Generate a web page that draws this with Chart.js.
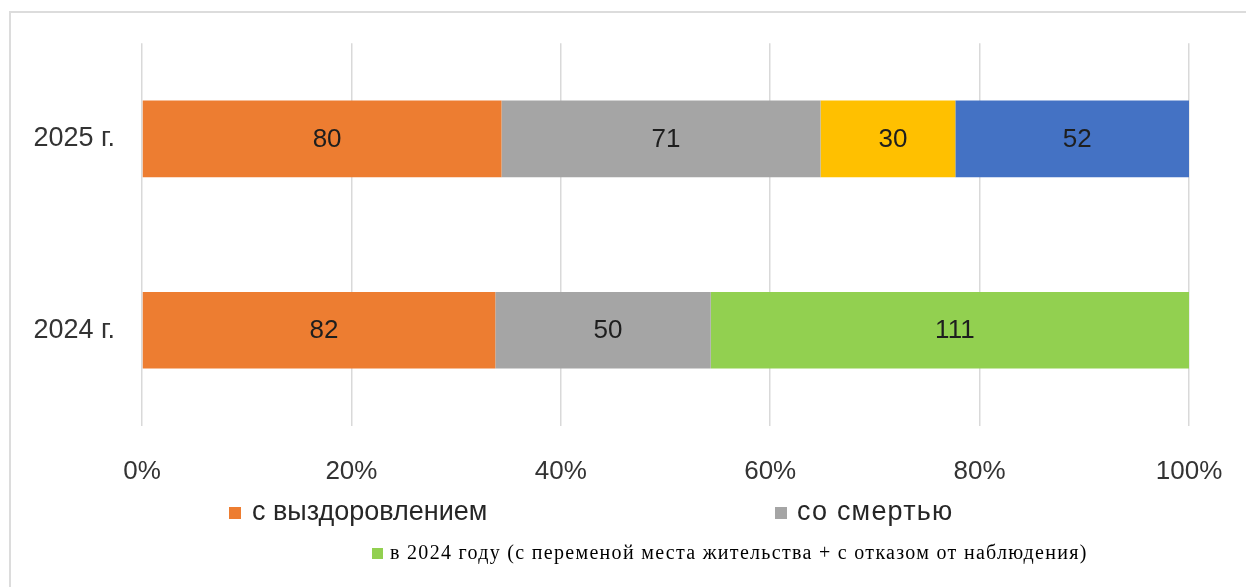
<!DOCTYPE html>
<html>
<head>
<meta charset="utf-8">
<script src="https://cdn.jsdelivr.net/npm/chart.js@4"></script>
<style>
  html, body { margin:0; padding:0; background:#fff; }
  #wrap { position:relative; width:1246px; height:587px; overflow:hidden; }
  #frame { position:absolute; left:9px; top:11px; width:1250px; height:600px; border:2px solid #dcdcdc; box-sizing:border-box; }
  canvas { position:absolute; left:0; top:0; }
  .lg { position:absolute; white-space:nowrap; color:#262626; }
  .lg i { position:absolute; display:block; }
  .sans { font-family:"Liberation Sans", Arial, sans-serif; font-size:27px; }
  .serif { font-family:"Liberation Serif", "Times New Roman", serif; font-size:20px; color:#000; letter-spacing:1.3px; }
</style>
</head>
<body>
<div id="wrap">
  <div id="frame"></div>
  <canvas id="chart" width="1246" height="587"></canvas>
  <div class="lg sans" style="left:229px;top:496px;"><i style="left:0;top:11px;width:12px;height:12px;background:#ED7D31"></i><span style="margin-left:23px">с выздоровлением</span></div>
  <div class="lg sans" style="left:775px;top:496px;"><i style="left:0;top:11px;width:12px;height:12px;background:#A5A5A5"></i><span style="margin-left:22px;letter-spacing:1.2px">со смертью</span></div>
  <div class="lg serif" style="left:372px;top:541px;"><i style="left:0;top:7px;width:11px;height:11px;background:#92D050"></i><span style="margin-left:18px">в 2024 году (с переменой места жительства + с отказом от наблюдения)</span></div>
</div>
<script>
// categories, top to bottom
const years = ["2025 г.", "2024 г."];

// raw counts per year (2025, 2024)
const recovered = [80, 82];
const died = [71, 50];
const moved = [30, null];
const refused = [52, null];
const movedOrRefused2024 = [null, 111];

const xTicks = [0, 20, 40, 60, 80, 100];

const series = [
  { label: "с выздоровлением", raw: recovered, color: "#ED7D31" },
  { label: "со смертью", raw: died, color: "#A5A5A5" },
  { label: "с переменой места жительства", raw: moved, color: "#FFC000" },
  { label: "с отказом от наблюдения", raw: refused, color: "#4472C4" },
  { label: "в 2024 году (с переменой места жительства + с отказом от наблюдения)", raw: movedOrRefused2024, color: "#92D050" }
];

// totals per year so each bar fills 100%
const totals = years.map((_, i) => series.reduce((s, d) => s + (d.raw[i] || 0), 0));

const valueLabels = {
  id: "valueLabels",
  afterDatasetsDraw(chart) {
    const ctx = chart.ctx;
    ctx.save();
    ctx.font = "26px 'Liberation Sans', Arial, sans-serif";
    ctx.fillStyle = "#1e1e1e";
    ctx.textAlign = "center";
    ctx.textBaseline = "middle";
    chart.data.datasets.forEach((ds, di) => {
      const meta = chart.getDatasetMeta(di);
      meta.data.forEach((bar, i) => {
        const v = ds.rawValues[i];
        if (v == null) return;
        ctx.fillText(String(v), (bar.x + bar.base) / 2 + 5, bar.y + 1);
      });
    });
    ctx.restore();
  }
};

new Chart(document.getElementById("chart"), {
  type: "bar",
  data: {
    labels: years,
    datasets: series.map(s => ({
      label: s.label,
      data: s.raw.map((v, i) => v == null ? null : v / totals[i] * 100),
      rawValues: s.raw,
      backgroundColor: s.color,
      borderWidth: 0,
      barPercentage: 0.4,
      categoryPercentage: 1
    }))
  },
  options: {
    indexAxis: "y",
    responsive: false,
    animation: false,
    layout: { padding: { left: 0, top: 36, right: 57, bottom: 100 } },
    plugins: { legend: { display: false }, tooltip: { enabled: false } },
    scales: {
      x: {
        stacked: true,
        min: 0,
        max: 100,
        afterBuildTicks(scale) { scale.ticks = xTicks.map(v => ({ value: v })); },
        ticks: {
          callback: v => v + "%",
          font: { family: "'Liberation Sans', Arial, sans-serif", size: 26 },
          color: "#333",
          padding: 0,
          maxRotation: 0
        },
        grid: { color: "#d9d9d9", lineWidth: 1.5, drawTicks: true, tickLength: 30, tickColor: "rgba(0,0,0,0)" },
        border: { display: false },
        afterFit(scale) { scale.height = 61; }
      },
      y: {
        stacked: true,
        ticks: {
          font: { family: "'Liberation Sans', Arial, sans-serif", size: 27 },
          color: "#333",
          padding: 27
        },
        grid: { display: false, drawTicks: false },
        border: { display: false },
        afterFit(scale) { scale.width = 142; }
      }
    }
  },
  plugins: [valueLabels]
});
</script>
</body>
</html>
